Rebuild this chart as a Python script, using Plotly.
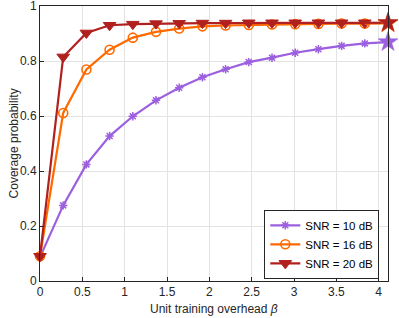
import plotly.graph_objects as go

beta = [0, 0.274, 0.548, 0.822, 1.096, 1.37, 1.644, 1.918, 2.192, 2.466, 2.74, 3.014, 3.288, 3.562, 3.836, 4.11]
snr10 = [0.087, 0.275, 0.424, 0.527, 0.599, 0.657, 0.703, 0.741, 0.770, 0.796, 0.812, 0.830, 0.843, 0.855, 0.864, 0.869]
snr16 = [0.090, 0.611, 0.769, 0.841, 0.885, 0.906, 0.918, 0.926, 0.929, 0.931, 0.933, 0.934, 0.935, 0.936, 0.936, 0.937]
snr20 = [0.090, 0.815, 0.902, 0.930, 0.934, 0.936, 0.937, 0.938, 0.938, 0.939, 0.939, 0.939, 0.939, 0.939, 0.939, 0.939]
names = ["SNR = 10 dB", "SNR = 16 dB", "SNR = 20 dB"]

c_purple = "#9B5FE0"
c_orange = "#FF6A00"
c_red = "#B0201E"
FONT = "Liberation Sans, Arial"

fig = go.Figure()

series = [
    (snr10, names[0], c_purple, dict(symbol="asterisk-open", size=7, line=dict(width=1.5, color=c_purple))),
    (snr16, names[1], c_orange, dict(symbol="circle-open", size=9, line=dict(width=1.6, color=c_orange))),
    (snr20, names[2], c_red, dict(symbol="triangle-down", size=11, color=c_red, line=dict(width=1, color=c_red))),
]

for ys, nm, col, mk in series:
    fig.add_trace(go.Scatter(
        x=beta[:-1], y=ys[:-1], mode="lines+markers", name=nm,
        line=dict(color=col, width=2.2), marker=mk, cliponaxis=False,
    ))

for ys, nm, col, mk in series:
    fig.add_trace(go.Scatter(
        x=beta[-2:], y=ys[-2:], mode="lines", showlegend=False,
        line=dict(color=col, width=2.2), cliponaxis=False, hoverinfo="skip",
    ))
for ys, nm, col, mk in series:
    fig.add_trace(go.Scatter(
        x=[beta[-1]], y=[ys[-1]], mode="markers", showlegend=False,
        marker=dict(symbol="star", size=15, color=col, line=dict(width=0.5, color=col)),
        cliponaxis=False, hoverinfo="skip",
    ))

axis_common = dict(
    showline=True, linecolor="#262626", linewidth=1, mirror=True,
    ticks="inside", ticklen=4, tickcolor="#262626",
    showgrid=True, gridcolor="#E3E3E3", gridwidth=1, zeroline=False,
    tickfont=dict(family=FONT, size=12, color="#262626"),
    automargin=False, ticklabeloverflow="allow",
)

fig.update_xaxes(
    range=[0, 4.11], tickvals=[0, 0.5, 1, 1.5, 2, 2.5, 3, 3.5, 4],
    ticktext=["0", "0.5", "1", "1.5", "2", "2.5", "3", "3.5", "4"],
    **axis_common,
)
fig.update_yaxes(
    range=[0, 1], tickvals=[0, 0.2, 0.4, 0.6, 0.8, 1],
    ticktext=["0", "0.2", "0.4", "0.6", "0.8", "1"],
    **axis_common,
)

fig.add_annotation(
    text="Unit training overhead <i>β</i>", xref="paper", yref="paper",
    x=0.5, y=-0.1, xanchor="center", yanchor="middle", showarrow=False,
    font=dict(family=FONT, size=12, color="#262626"),
)
fig.add_annotation(
    text="Coverage probability", xref="paper", yref="paper",
    x=-0.075, y=0.5, xanchor="center", yanchor="middle", textangle=-90,
    showarrow=False, font=dict(family=FONT, size=12, color="#262626"),
)

fig.update_layout(
    width=399, height=318,
    margin=dict(l=40, r=11, t=6, b=37),
    plot_bgcolor="white", paper_bgcolor="white",
    legend=dict(
        x=0.975, y=0.008, xanchor="right", yanchor="bottom",
        bgcolor="white", bordercolor="#262626", borderwidth=1,
        font=dict(family=FONT, size=11.5, color="#000000"),
        tracegroupgap=0, itemwidth=30,
    ),
)

fig.write_html(
    "out.html",
    config={"displayModeBar": False},
    post_script="document.body.style.margin='0';document.body.style.overflow='hidden';",
)
